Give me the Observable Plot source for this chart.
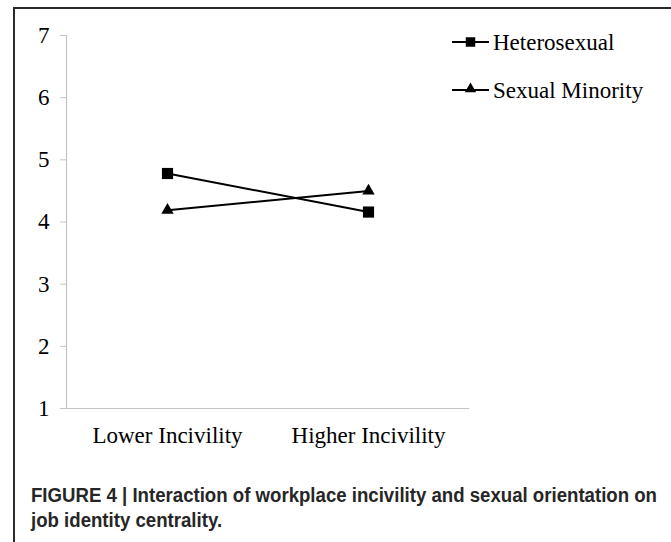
<!DOCTYPE html>
<html>
<head>
<meta charset="utf-8">
<script src="https://cdn.jsdelivr.net/npm/d3@7"></script>
<script src="https://cdn.jsdelivr.net/npm/@observablehq/plot@0.6"></script>
<style>
  html, body { margin: 0; padding: 0; background: #fff; }
  #wrap { position: relative; width: 671px; height: 542px; overflow: hidden; background: #fff; }
  #frame { position: absolute; left: 13px; top: 7px; right: -4px; bottom: -4px;
           border-left: 2px solid #2a2a2a; border-top: 2px solid #2a2a2a; }
  #chart { position: absolute; left: 0; top: 0; }
  #legend { position: absolute; left: 0; top: 0; }
  #caption { position: absolute; left: 31px; top: 483px;
             font-family: "Liberation Sans Narrow", "Arial Narrow", "Liberation Sans", Arial, sans-serif;
             font-weight: bold; font-size: 19.5px; line-height: 25px; color: #262626; white-space: nowrap;
             transform-origin: 0 0; }
</style>
</head>
<body>
<div id="wrap">
  <div id="frame"></div>
  <div id="chart"></div>
  <svg id="legend" width="671" height="120"></svg>
  <div id="caption"><span id="cap1">FIGURE 4 | Interaction of workplace incivility and sexual orientation on</span><br><span>job identity centrality.</span></div>
</div>
<script>
const categories = ["Lower Incivility", "Higher Incivility"];
const seriesNames = ["Heterosexual", "Sexual Minority"];
const heterosexual = [4.78, 4.16];
const sexualMinority = [4.19, 4.50];
const yTicks = [1, 2, 3, 4, 5, 6, 7];
const symbols = ["square", "triangle"];

const data = [];
categories.forEach((c, i) => {
  data.push({category: c, series: seriesNames[0], value: heterosexual[i]});
  data.push({category: c, series: seriesNames[1], value: sexualMinority[i]});
});

const serif = "'Liberation Serif', 'Times New Roman', serif";

const plot = Plot.plot({
  width: 671,
  height: 460,
  marginLeft: 66,
  marginRight: 203,
  marginTop: 35,
  marginBottom: 52,
  style: {fontFamily: serif, fontSize: "23px", color: "#000", background: "transparent", overflow: "visible"},
  x: {type: "point", domain: categories, padding: 0.5},
  y: {domain: [1, 7]},
  symbol: {domain: seriesNames, range: symbols},
  marks: [
    Plot.frame({anchor: "left", stroke: "#c4c4c4", strokeWidth: 1.2}),
    Plot.frame({anchor: "bottom", stroke: "#c4c4c4", strokeWidth: 1.2}),
    Plot.axisY({ticks: yTicks, tickSize: 6, tickPadding: 11, stroke: "#c4c4c4", strokeOpacity: 1, label: null, fill: "#000", tickFormat: d => String(d)}),
    Plot.axisX({tickSize: 0, tickPadding: 18, label: null, fill: "#000"}),
    Plot.line(data, {x: "category", y: "value", z: "series", stroke: "#000", strokeWidth: 2}),
    Plot.dot(data.filter(d => d.series === seriesNames[0]), {x: "category", y: "value", symbol: "series", r: 6.3, fill: "#000", stroke: "none"}),
    Plot.dot(data.filter(d => d.series === seriesNames[1]), {x: "category", y: "value", symbol: "series", r: 4.6, fill: "#000", stroke: "none"})
  ]
});
document.getElementById("chart").appendChild(plot);

// Legend
const leg = d3.select("#legend");
const legendX = 452, legendLen = 37, legendY0 = 42, legendStep = 48;
seriesNames.forEach((name, i) => {
  const y = legendY0 + i * legendStep;
  const g = leg.append("g");
  g.append("line").attr("x1", legendX).attr("x2", legendX + legendLen)
    .attr("y1", y).attr("y2", y).attr("stroke", "#000").attr("stroke-width", 2);
  const cx = legendX + legendLen / 2;
  if (symbols[i] === "square") {
    g.append("path").attr("d", d3.symbol(d3.symbolSquare, 90)()).attr("transform", `translate(${cx},${y})`).attr("fill", "#000");
  } else {
    g.append("path").attr("d", d3.symbol(d3.symbolTriangle, 55)()).attr("transform", `translate(${cx},${y - 1})`).attr("fill", "#000");
  }
  g.append("text").attr("x", legendX + legendLen + 4).attr("y", y + 8)
    .attr("font-family", serif).attr("font-size", 23).attr("fill", "#000").text(name);
});

// Fit the caption's first line to the reference's width (condensed face)
const cap = document.getElementById("caption");
const w1 = document.getElementById("cap1").getBoundingClientRect().width;
const k = Math.min(1, 626 / w1);
cap.style.transform = `scaleX(${k})`;
</script>
</body>
</html>
